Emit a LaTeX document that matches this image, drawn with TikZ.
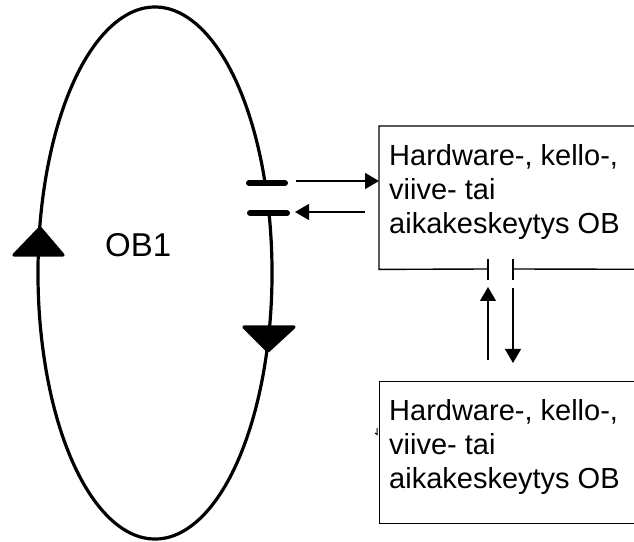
\documentclass[tikz,border=0pt]{standalone}
\usepackage{fontspec}
\setmainfont{Liberation Sans}
\usetikzlibrary{arrows.meta}

\tikzset{
  loopline/.style={line width=3.2pt},
  pointer/.style={line width=3.2pt, fill=black, line join=round},
  contact/.style={line width=6pt, line cap=round},
  frame/.style={line width=1.4pt},
  signal/.style={line width=1.4pt, -{Triangle[length=14pt,width=16pt]}},
  gaptick/.style={line width=1.4pt},
  obtext/.style={font=\fontsize{29pt}{34pt}\selectfont, align=left, inner sep=0pt, anchor=north west},
}

\begin{document}
\begin{tikzpicture}[x=1pt,y=1pt]
  \useasboundingbox (0,0) rectangle (634,541);
  \clip (0,0) rectangle (634,541);

  % main cycle of OB1, opened at the interrupt contacts
  \draw[loopline] (265.1,358) arc[start angle=19.78, end angle=373.04, x radius=117, y radius=266];
  \node (ob1) [font=\fontsize{33pt}{38pt}\selectfont, inner sep=0pt, anchor=base west] at (105,284) {OB1};

  % direction markers on the cycle
  \filldraw[pointer] (40,313) -- (63,286) -- (14,286) -- cycle;
  \filldraw[pointer] (268,190) -- (294,214) -- (244,214) -- cycle;

  % interrupt contacts
  \coordinate (k1) at (267,358);
  \coordinate (k2) at (268,328);
  \draw[contact] (249,358) -- (285,358);
  \draw[contact] (250,328) -- (287,328);

  % interrupt OB boxes
  \node (box1) [minimum width=300pt, minimum height=143pt, inner sep=0pt, anchor=north west] at (379,415) {};
  \node (box2) [draw, frame, minimum width=300pt, minimum height=142pt, inner sep=0pt, anchor=north west] at (379,160) {};

  \node (txt1) [obtext] at (389,396.4) {Hardware-, kello-,\\viive- tai\\aikakeskeytys OB};
  \node (txt2) [obtext] at (389,141.6) {Hardware-, kello-,\\viive- tai\\aikakeskeytys OB};

  % box 1 outline with its own contact gap in the bottom edge
  \coordinate (g1) at (488,272);
  \coordinate (g2) at (513,272);
  \draw[frame] (box1.north east) -- (box1.north west) -- (box1.south west) -- (g1);
  \draw[frame] (g2) -- (box1.south east);
  \draw[gaptick] ([yshift=10pt]g1) -- ([yshift=-11pt]g1);
  \draw[gaptick] ([yshift=10pt]g2) -- ([yshift=-11pt]g2);

  % calls and returns between the levels
  \coordinate (a1) at (296,360);
  \draw[signal] (a1) -- (a1 -| box1.west);
  \coordinate (a2) at (365,329);
  \coordinate (a3) at (295,329);
  \draw[signal] (a2) -- (a3);
  \coordinate (a4) at (488,181);
  \draw[signal] (a4) -- ([yshift=-18pt]g1);
  \coordinate (a5) at (513,178);
  \draw[signal] ([yshift=-19pt]g2) -- (a5);

  % small mark at the left edge of box 2
  \draw[line width=1pt] (377,113) -- (377,106.5) -- (375,108);
\end{tikzpicture}
\end{document}
